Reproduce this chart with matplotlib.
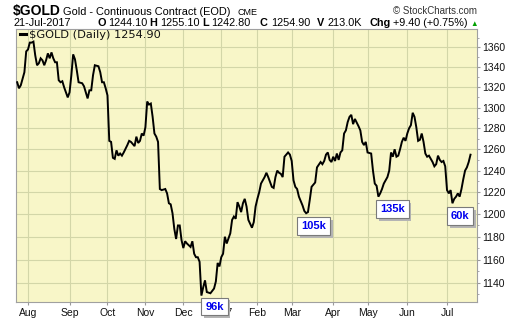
import numpy as np
import matplotlib
matplotlib.use("Agg")
import matplotlib.pyplot as plt
import matplotlib.patheffects as pe
from matplotlib.lines import Line2D
from matplotlib.ticker import FixedLocator, NullFormatter, FuncFormatter

# trading day number counted from 21-Jul-2016, and the daily close
day = [1, 2, 3, 5, 6, 7, 8, 9, 10, 11, 12, 13, 14, 15, 16, 17, 18, 19, 20, 21,
       22, 23, 24, 25, 26, 27, 29, 30, 31, 32, 33, 34, 35, 37, 38, 40, 41, 42, 43, 44,
       46, 47, 48, 49, 50, 51, 52, 53, 54, 55, 56, 57, 58, 59, 60, 62, 63, 64, 66, 67,
       68, 69, 70, 71, 72, 73, 74, 75, 76, 77, 78, 79, 80, 81, 83, 84, 85, 86, 87, 88,
       89, 90, 91, 92, 93, 94, 95, 97, 98, 99, 100, 101, 102, 103, 104, 105, 106, 108, 110, 111,
       112, 113, 114, 115, 116, 117, 119, 120, 121, 122, 123, 124, 125, 126, 127, 128, 129, 131, 132, 133,
       134, 135, 136, 138, 139, 140, 142, 143, 144, 145, 146, 147, 148, 149, 151, 152, 153, 154, 155, 156,
       157, 159, 160, 161, 162, 163, 164, 166, 167, 169, 170, 171, 172, 173, 174, 175, 176, 177, 178, 179,
       180, 181, 182, 183, 184, 185, 186, 187, 188, 190, 191, 192, 193, 194, 195, 197, 198, 199, 200, 201,
       202, 203, 204, 206, 207, 208, 209, 210, 211, 212, 213, 214, 215, 216, 217, 218, 219, 220, 221, 222,
       223, 224, 225, 226, 227, 228, 229, 231, 232, 233, 234, 235, 236, 237, 238, 239, 240, 241, 242, 243,
       244, 245, 246, 247, 248, 249, 250, 251, 252]
close = [1325, 1319, 1322, 1335, 1356, 1358, 1365, 1365, 1366, 1352, 1342, 1344, 1349, 1347, 1342, 1347, 1354, 1349, 1355, 1349,
         1345, 1345, 1327, 1325, 1326, 1320, 1310, 1315, 1332, 1353, 1348, 1337, 1325, 1324, 1321, 1309, 1317, 1317, 1332, 1342,
         1341, 1335, 1325, 1325, 1319, 1312, 1268, 1267, 1252, 1251, 1259, 1254, 1256, 1254, 1257, 1264, 1268, 1267, 1263, 1272,
         1266, 1268, 1275, 1273, 1281, 1306, 1303, 1304, 1291, 1275, 1272, 1267, 1223, 1222, 1223, 1219, 1210, 1209, 1201, 1187,
         1178, 1190, 1190, 1177, 1170, 1176, 1174, 1171, 1176, 1165, 1162, 1162, 1158, 1129, 1136, 1142, 1132, 1131, 1135, 1141,
         1157, 1154, 1162, 1165, 1180, 1174, 1183, 1195, 1198, 1196, 1211, 1207, 1202, 1210, 1214, 1207, 1195, 1188, 1193, 1207,
         1214, 1220, 1228, 1234, 1238, 1234, 1225, 1224, 1234, 1240, 1238, 1237, 1234, 1253, 1257, 1255, 1249, 1231, 1225, 1223,
         1216, 1208, 1203, 1201, 1202, 1213, 1225, 1229, 1243, 1248, 1246, 1249, 1255, 1257, 1250, 1248, 1253, 1249, 1256, 1250,
         1257, 1259, 1275, 1278, 1286, 1291, 1293, 1284, 1289, 1282, 1278, 1267, 1264, 1267, 1257, 1256, 1240, 1228, 1226, 1216,
         1219, 1223, 1228, 1234, 1240, 1257, 1253, 1260, 1253, 1254, 1260, 1267, 1271, 1268, 1275, 1280, 1283, 1295, 1291, 1281,
         1268, 1269, 1275, 1267, 1256, 1253, 1254, 1248, 1244, 1246, 1254, 1250, 1248, 1249, 1244, 1222, 1219, 1222, 1210, 1214,
         1216, 1219, 1216, 1223, 1232, 1240, 1243, 1248, 1254.9]

start = "2016-07-21"
holidays = ["2016-09-05", "2016-11-24", "2016-12-26", "2017-01-02", "2017-01-16",
            "2017-02-20", "2017-04-14", "2017-05-29", "2017-07-04"]
month_starts = ["2016-08-01", "2016-09-01", "2016-10-01", "2016-11-01", "2016-12-01", "2017-01-01",
                "2017-02-01", "2017-03-01", "2017-04-01", "2017-05-01", "2017-06-01", "2017-07-01"]
month_labels = ["Aug", "Sep", "Oct", "Nov", "Dec", "2017", "Feb", "Mar", "Apr", "May", "Jun", "Jul"]

# volume callouts at the swing lows
low_days = [103, 161, 201, 242]
low_labels = ["96k", "105k", "135k", "60k"]
label_offsets = [(13, -11), (7.5, -13), (14, -12.5), (7.5, -13)]

y_ticks = list(range(1140, 1361, 20))

# header quote: (bold key, value)
quote = [("O", "1244.10"), ("H", "1255.10"), ("L", "1242.80"),
         ("C", "1254.90"), ("V", "213.0K"), ("Chg", "+9.40 (+0.75%)")]
quote_x = [97, 149, 202, 260, 317, 369]

W, H = 520, 318
BG = "#f8f6c8"
GRID = "#d3d6a8"
SANS = ["Liberation Sans", "DejaVu Sans"]


def fx(x):
    return x / W


def fy(y):
    return 1 - y / H


fig = plt.figure(figsize=(W / 100, H / 100), dpi=100)
fig.patch.set_facecolor("white")
ax = fig.add_axes([fx(16), fy(302), (477 - 16) / W, (302 - 29) / H])
ax.set_facecolor(BG)

ax.plot(day, close, color="black", lw=1.4, solid_joinstyle="miter", zorder=3)

ax.set_yscale("log")
ax.set_ylim(1123.6, 1379)
ax.yaxis.set_major_locator(FixedLocator(y_ticks))
ax.yaxis.set_major_formatter(FuncFormatter(lambda v, p: f"{v:.0f}"))
ax.yaxis.set_minor_locator(FixedLocator([v for v in range(1130, 1380, 10) if v not in y_ticks]))
ax.yaxis.set_minor_formatter(NullFormatter())
ax.yaxis.tick_right()

month_pos = [np.busday_count(start, m, holidays=holidays) for m in month_starts]
ax.set_xlim(0.35, 255.6)
ax.set_xticks(month_pos)
ax.set_xticklabels(month_labels)

ax.grid(True, which="major", color=GRID, lw=0.8)
for s in ax.spines.values():
    s.set_color("#a0a0a0")
    s.set_linewidth(0.8)
ax.tick_params(which="both", direction="out", color="#999999", labelsize=7.5)
ax.tick_params(axis="y", pad=1.5)
ax.tick_params(axis="x", pad=2)
ax.tick_params(which="major", length=2.5)
ax.tick_params(which="minor", length=1.5)
for lab in ax.get_xticklabels() + ax.get_yticklabels():
    lab.set_family(SANS)
    lab.set_color("#111111")

for d, lab, (dx, dy) in zip(low_days, low_labels, label_offsets):
    c = close[day.index(d)]
    t = ax.annotate(lab, xy=(d, c), xytext=(dx, dy), textcoords="offset pixels",
                    ha="center", va="center", fontsize=8, fontweight="bold", color="#0000ee",
                    family=SANS, annotation_clip=False, clip_on=False, zorder=10,
                    bbox=dict(boxstyle="square,pad=0.35", fc="white", ec="#7a7a7a", lw=0.8))
    t.get_bbox_patch().set_path_effects(
        [pe.SimplePatchShadow(offset=(2, -2), shadow_rgbFace="#b4b4b4", alpha=1), pe.Normal()])

# legend row inside the plot
fig.add_artist(Line2D([fx(20), fx(26)], [fy(34), fy(34)], color="black", lw=2.2))
fig.text(fx(29), fy(37.5), "$GOLD (Daily) 1254.90", fontsize=8.2, family="DejaVu Sans",
         va="baseline", color="#111111")

# header
fig.text(fx(13), fy(15), "$GOLD", fontsize=10, fontweight="bold", family=SANS, va="baseline")
fig.text(fx(63), fy(15), "Gold - Continuous Contract (EOD)", fontsize=7.9, family=SANS, va="baseline")
fig.text(fx(237), fy(15), "CME", fontsize=6.5, family=SANS, va="baseline")
fig.text(fx(477), fy(14), "\u00a9 StockCharts.com", fontsize=7, family=SANS, va="baseline",
         ha="right", color="#333333")

fig.text(fx(14), fy(26.5), "21-Jul-2017", fontsize=7.8, family=SANS, va="baseline")
renderer = fig.canvas.get_renderer()
end = 0
for x, (key, val) in zip(quote_x, quote):
    k = fig.text(fx(x), fy(26.5), key, fontsize=7.8, fontweight="bold", family=SANS, va="baseline")
    kx = k.get_window_extent(renderer).x1
    v = fig.text((kx + 3) / W, fy(26.5), val, fontsize=7.8, family=SANS, va="baseline")
    end = v.get_window_extent(renderer).x1
fig.text((end + 3) / W, fy(26), "\u25b2", fontsize=5.5, family=SANS, va="baseline", color="#00a000")

fig.savefig("out.png", dpi=100)
